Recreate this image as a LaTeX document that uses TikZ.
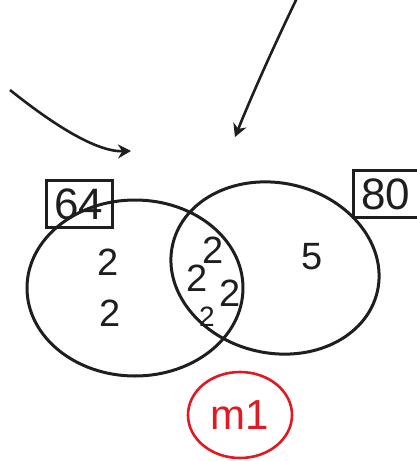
\documentclass[tikz,border=0pt]{standalone}
\usepackage{fontspec}
\setmainfont{Liberation Sans}
\usetikzlibrary{arrows.meta,shapes.geometric}
\definecolor{ink}{RGB}{30,30,30}
\definecolor{pen}{RGB}{225,25,35}
\tikzset{
  outline/.style={draw=ink, line width=3pt},
  label box/.style={draw=ink, line width=3pt, minimum width=66pt, minimum height=47pt, inner sep=0pt, font=\fontsize{44}{44}\selectfont, text=ink},
  digit/.style={font=\fontsize{38}{38}\selectfont, text=ink, inner sep=0pt},
  pointer/.style={draw=ink, line width=2.6pt, -{Stealth[length=13pt,width=14pt]}},
  markring/.style={draw=pen, line width=2.6pt, ellipse, minimum width=104pt, minimum height=86pt, inner sep=0pt, text=pen, font=\fontsize{42}{42}\selectfont},
}
\begin{document}
\begin{tikzpicture}[x=1pt,y=-1pt]
\useasboundingbox (0,0) rectangle (417,461);

% the two sets
\draw[outline] (135,288) ellipse [x radius=108, y radius=88];
\draw[outline, rotate around={-13:(275,268)}] (275,268) ellipse [x radius=105, y radius=85];

% set totals
\node[label box] (tA) at (79,204) {64};
\node[label box] (tB) at (386,194) {80};

% counts in each region
\node[digit] (a1) at (108,262) {2};
\node[digit] (a2) at (110,313) {2};
\node[digit] (c1) at (213,250) {2};
\node[digit] (c2) at (197,278) {2};
\node[digit] (c3) at (230,293) {2};
\node[digit, font=\fontsize{28}{28}\selectfont] (c4) at (207,317) {2};
\node[digit] (b1) at (312,257) {5};

% pointers
\coordinate (p1s) at (10,90);
\coordinate (p1e) at (131,151);
\coordinate (p2s) at (297,-2);
\coordinate (p2e) at (235,137);
\draw[pointer] (p1s) .. controls (50,122) and (95,152) .. (p1e);
\draw[pointer] (p2s) .. controls (272,50) and (252,95) .. (p2e);

% mark
\node[markring] (m) at (240,415) {m1};
\end{tikzpicture}
\end{document}
